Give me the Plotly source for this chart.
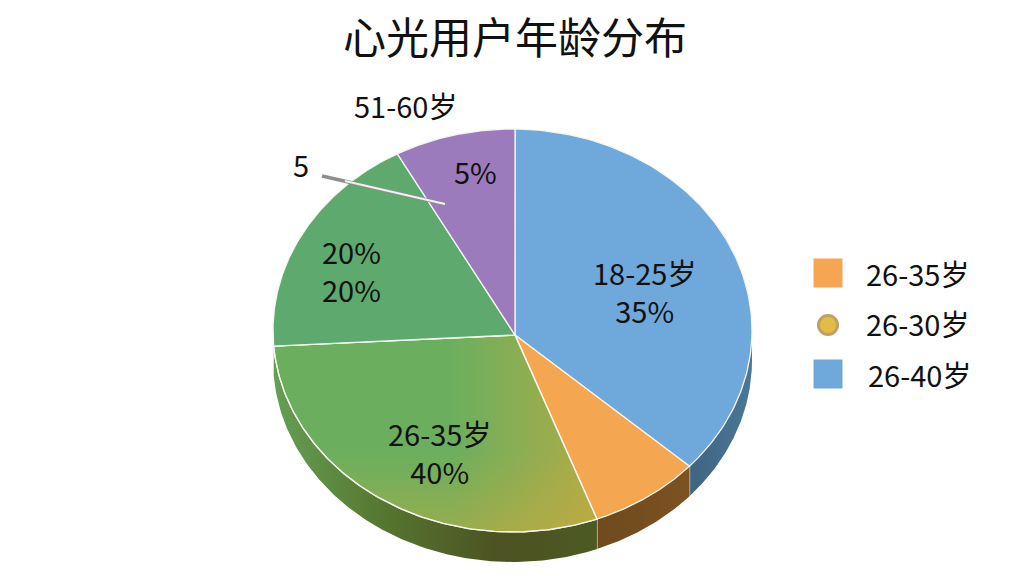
import numpy as np
import plotly.graph_objects as go

# slice sizes as drawn (the printed labels do not add up to these)
slice_shares = [36.6, 7.5, 29.5, 18.25, 8.15]
slice_colors = ["#6FA8DA", "#F4A650", "#6BAF5E", "#5EA96E", "#9C7BBD"]
blue_wall = ["#3F6480", "#4A7898"]
orange_wall = ["#6E4A1E", "#7D5220"]
green_wall = [[0, "#659F55"], [0.35, "#55752F"], [0.7, "#4C5222"], [1, "#4D5A22"]]
legend_names = ["26-35岁", "26-30岁", "26-40岁"]

# label text, x, y
labels = [
    ("18-25岁<br>35%", 644, 291),
    ("26-35岁<br>40%", 439, 452),
    ("20%<br>20%", 351, 270),
    ("5%", 475, 171), ("51-60岁", 405, 105), ("5", 301, 164),
]

FONT = "Noto Sans CJK SC, Noto Sans, sans-serif"
cx, cy, rx, ry = 512.5, 330.5, 239.5, 201.5
apex_x, apex_y = 515, 335
depth = 30
start = 0.6


def rim(a, b, n=120):
    t = np.radians(np.linspace(a, b, n))
    return cx + rx * np.sin(t), cy - ry * np.cos(t)


fig = go.Figure()

edges = start + np.concatenate([[0], np.cumsum(slice_shares)]) * 3.6

# side walls first, only the part facing the viewer
wall_scales = [
    [[0, blue_wall[0]], [1, blue_wall[1]]],
    [[0, orange_wall[0]], [1, orange_wall[1]]],
    green_wall,
]
for i in range(3):
    a = max(edges[i], 90)
    b = min(edges[i + 1], 268)
    x, y = rim(a, b)
    fig.add_trace(go.Scatter(
        x=np.concatenate([x, x[::-1]]), y=np.concatenate([y, y[::-1] + depth]),
        mode="lines", fill="toself", line=dict(width=0), hoverinfo="skip",
        fillgradient=dict(type="horizontal", colorscale=wall_scales[i]),
        showlegend=False,
    ))
    if i < 2:
        fig.add_trace(go.Scatter(
            x=[x[-1], x[-1]], y=[y[-1], y[-1] + depth],
            mode="lines", line=dict(color="#C8C8C8", width=1.5),
            hoverinfo="skip", showlegend=False,
        ))

# top face
for i, color in enumerate(slice_colors):
    x, y = rim(edges[i], edges[i + 1])
    px = np.concatenate([[apex_x], x, [apex_x]])
    py = np.concatenate([[apex_y], y, [apex_y]])
    fig.add_trace(go.Scatter(
        x=px, y=py, mode="lines", fill="toself", fillcolor=color,
        line=dict(color="#F4F6EE", width=1.3), hoverinfo="skip", showlegend=False,
    ))
    if i == 2:
        # ochre glow towards the lower right of the big slice
        for kind, stops in [
            ("horizontal", [[0, "rgba(205,170,60,0)"], [0.55, "rgba(205,170,60,0)"], [1, "rgba(205,170,60,0.7)"]]),
            ("vertical", [[0, "rgba(205,170,60,0.45)"], [0.4, "rgba(205,170,60,0)"], [1, "rgba(205,170,60,0)"]]),
        ]:
            fig.add_trace(go.Scatter(
                x=px, y=py, mode="lines", fill="toself",
                fillgradient=dict(type=kind, colorscale=stops),
                line=dict(width=0), hoverinfo="skip", showlegend=False,
            ))
        fig.add_trace(go.Scatter(
            x=px, y=py, mode="lines", line=dict(color="#F4F6EE", width=1.3),
            hoverinfo="skip", showlegend=False,
        ))

# leader line for the stray "5"
fig.add_trace(go.Scatter(x=[322, 445], y=[176, 204], mode="lines",
                         line=dict(color="#8E8E8E", width=3.5), hoverinfo="skip", showlegend=False))
fig.add_trace(go.Scatter(x=[345, 445], y=[181, 204], mode="lines",
                         line=dict(color="#F2F2F2", width=2), hoverinfo="skip", showlegend=False))

# legend keys
fig.add_trace(go.Scatter(x=[828, 828, 828], y=[273, 325, 374], mode="markers",
                         marker=dict(symbol=["square", "circle", "square"], size=[29, 19, 29], opacity=1,
                                     color=["#F6A653", "#E2BC45", "#6FA8DA"],
                                     line=dict(color=["#F6A653", "#BBA263", "#6FA8DA"], width=[0, 3, 0])),
                         hoverinfo="skip", showlegend=False))

fig.add_annotation(x=515, y=35, text="心光用户年龄分布", showarrow=False,
                   font=dict(family=FONT, size=43, color="#111111"))
for t, x, y in labels:
    fig.add_annotation(x=x, y=y, text=t, showarrow=False,
                       font=dict(family=FONT, size=29, color="#111111"))
for n, x, y in zip(legend_names, [917, 917, 919], [273, 323, 374]):
    fig.add_annotation(x=x, y=y, text=n, showarrow=False,
                       font=dict(family=FONT, size=29, color="#111111"))

fig.update_layout(
    width=1024, height=576,
    margin=dict(l=0, r=0, t=0, b=0),
    paper_bgcolor="white", plot_bgcolor="white",
    xaxis=dict(range=[0, 1024], visible=False, fixedrange=True),
    yaxis=dict(range=[576, 0], visible=False, fixedrange=True),
)

fig.write_html("out.html", config=dict(displayModeBar=False),
               post_script="document.body.style.margin = 0;")
